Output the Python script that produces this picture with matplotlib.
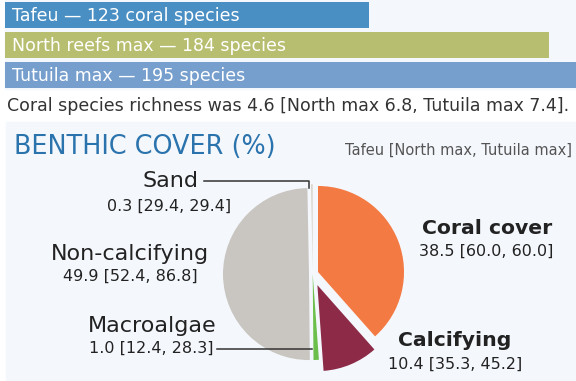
import matplotlib
matplotlib.use("Agg")
import matplotlib.pyplot as plt
from matplotlib.patches import Rectangle

# ---- data ----
bar_labels = ["Tafeu \u2014 123 coral species",
              "North reefs max \u2014 184 species",
              "Tutuila max \u2014 195 species"]
bar_values = [123, 184, 195]
bar_colors = ["#4a8fc4", "#b8be70", "#769fce"]

richness_note = "Coral species richness was 4.6 [North max 6.8, Tutuila max 7.4]."

cover_names = ["Coral cover", "Calcifying", "Macroalgae", "Non-calcifying", "Sand"]
cover_tafeu = [38.5, 10.4, 1.0, 49.9, 0.3]
cover_north = [60.0, 35.3, 12.4, 52.4, 29.4]
cover_tutuila = [60.0, 45.2, 28.3, 86.8, 29.4]
cover_colors = ["#f47a43", "#8c2a47", "#6cbf4a", "#c9c6c1", "#d8d2c6"]
cover_explode = [0.066, 0.14, 0.0, 0.043, 0.043]

W, H = 576, 381
plt.rcParams["font.family"] = ["DejaVu Sans"]

fig = plt.figure(figsize=(W / 100, H / 100), dpi=100, facecolor="white")


def fx(x):
    return x / W


def fy(y):
    return 1 - y / H


def box(x0, y0, x1, y1):
    return [fx(x0), fy(y1), (x1 - x0) / W, (y1 - y0) / H]


panel = "#f4f7fc"
fig.patches.append(Rectangle((fx(5), fy(89)), (W - 5) / W, 89 / H,
                             transform=fig.transFigure, color=panel, zorder=-10))
fig.patches.append(Rectangle((fx(6), 0), (W - 6) / W, (H - 122) / H,
                             transform=fig.transFigure, color=panel, zorder=-10))

# ---- species bars ----
axb = fig.add_axes(box(5, 0, W, 90))
axb.set_facecolor("none")
ypos = list(range(len(bar_values)))
axb.barh(ypos, bar_values, height=0.87, color=bar_colors, zorder=2)
axb.set_xlim(0, 193.1)
axb.set_ylim(2.5, -0.5)
axb.axis("off")
for y, lab in zip(ypos, bar_labels):
    axb.text(2.4, y + 0.02, lab, color="white", fontsize=12.5, va="center",
             ha="left", zorder=3)

fig.text(fx(7), fy(106), richness_note, fontsize=12.55, color="#333333",
         va="center", ha="left")

# ---- benthic cover ----
fig.text(fx(14), fy(147), "BENTHIC COVER (%)", fontsize=18.4, color="#2a73ad",
         va="center", ha="left")
fig.text(fx(572), fy(150), "Tafeu [North max, Tutuila max]", fontsize=10.5,
         color="#555555", va="center", ha="right")

cx, cy, r = 312.7, 274, 86
half = 115
axp = fig.add_axes(box(cx - half, cy - half, cx + half, cy + half))
axp.pie(cover_tafeu, colors=cover_colors, explode=cover_explode,
        startangle=90, counterclock=False, radius=1,
        wedgeprops=dict(linewidth=0))
lim = half / r
axp.set_xlim(-lim, lim)
axp.set_ylim(-lim, lim)
axp.set_aspect("equal")
axp.axis("off")


def value_text(i):
    return f"{cover_tafeu[i]:.1f} [{cover_north[i]:.1f}, {cover_tutuila[i]:.1f}]"


name_fs, bold_fs, val_fs = 16, 14.7, 11.5
ink = "#222222"
# left-side labels
fig.text(fx(170), fy(181), cover_names[4], fontsize=name_fs, color=ink,
         ha="center", va="center")
fig.text(fx(169), fy(206), value_text(4), fontsize=val_fs, color=ink,
         ha="center", va="center")
fig.text(fx(130), fy(254), cover_names[3], fontsize=name_fs, color=ink,
         ha="center", va="center")
fig.text(fx(130), fy(276), value_text(3), fontsize=val_fs, color=ink,
         ha="center", va="center")
fig.text(fx(152), fy(326), cover_names[2], fontsize=name_fs, color=ink,
         ha="center", va="center")
fig.text(fx(151), fy(348), value_text(2), fontsize=val_fs, color=ink,
         ha="center", va="center")
# right-side labels
fig.text(fx(487), fy(228), cover_names[0], fontsize=bold_fs, color=ink,
         ha="center", va="center", fontweight="bold")
fig.text(fx(486), fy(251), value_text(0), fontsize=val_fs, color=ink,
         ha="center", va="center")
fig.text(fx(455), fy(340), cover_names[1], fontsize=bold_fs, color=ink,
         ha="center", va="center", fontweight="bold")
fig.text(fx(455), fy(364), value_text(1), fontsize=val_fs, color=ink,
         ha="center", va="center")

# leader lines
fig.add_artist(plt.Line2D([fx(204), fx(309), fx(309)], [fy(181), fy(181), fy(188)],
                          color="#333333", lw=1.1))
fig.add_artist(plt.Line2D([fx(217), fx(312)], [fy(349), fy(349)],
                          color="#333333", lw=1.1))

fig.savefig("out.png", dpi=100, facecolor="white")
